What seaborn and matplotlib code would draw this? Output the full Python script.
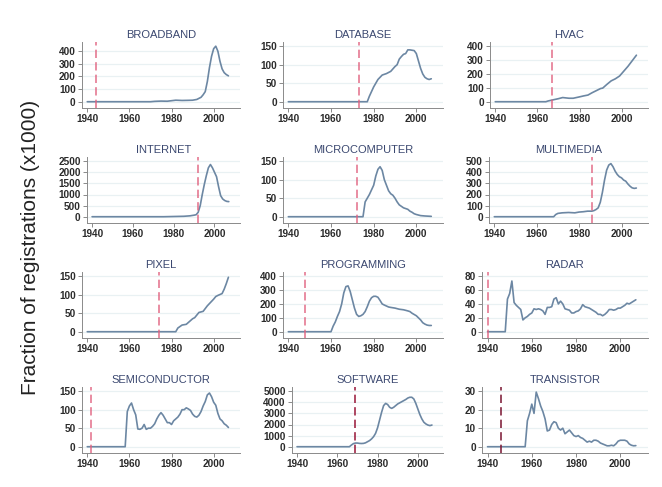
import matplotlib
matplotlib.use("Agg")
import matplotlib.pyplot as plt
import seaborn as sns
import pandas as pd

# ---- data: fraction of registrations (x1000) per year, by term ----
terms = ["BROADBAND", "DATABASE", "HVAC", "INTERNET", "MICROCOMPUTER", "MULTIMEDIA",
         "PIXEL", "PROGRAMMING", "RADAR", "SEMICONDUCTOR", "SOFTWARE", "TRANSISTOR"]

# year the term was introduced (dashed marker)
intro_years = [1944, 1973, 1967, 1992, 1972, 1986, 1974, 1948, 1940, 1942, 1969, 1946]

broadband_years = [1940, 1970, 1972, 1975, 1978, 1980, 1982, 1985, 1988, 1990, 1992, 1994, 1995,
                   1996, 1997, 1998, 1999, 2000, 2001, 2002, 2003, 2004, 2005, 2006, 2007]
broadband_values = [0, 0, 3, 5, 4, 8, 12, 10, 11, 12, 18, 35, 55,
                    80, 160, 270, 360, 420, 440, 400, 320, 260, 230, 215, 205]

database_years = [1940, 1977, 1978, 1980, 1982, 1984, 1986, 1988, 1990, 1991, 1992, 1993, 1994,
                  1995, 1996, 1997, 1998, 1999, 2000, 2001, 2002, 2003, 2004, 2005, 2006, 2007]
database_values = [0, 0, 15, 40, 60, 72, 76, 82, 95, 100, 115, 122, 128,
                   130, 140, 140, 139, 138, 130, 110, 90, 75, 66, 62, 60, 62]

hvac_years = [1940, 1964, 1965, 1967, 1970, 1972, 1975, 1977, 1980, 1982, 1984, 1986, 1988,
              1990, 1991, 1993, 1995, 1997, 1999, 2001, 2003, 2005, 2007]
hvac_values = [0, 0, 5, 12, 22, 30, 25, 25, 35, 42, 48, 65, 80,
               95, 98, 125, 150, 165, 185, 220, 255, 295, 335]

internet_years = [1940, 1975, 1980, 1985, 1988, 1990, 1991, 1992, 1993, 1994, 1995, 1996, 1997,
                  1998, 1999, 2000, 2001, 2002, 2003, 2004, 2005, 2006, 2007]
internet_values = [0, 0, 10, 20, 40, 70, 90, 200, 500, 1000, 1450, 1850, 2200,
                   2350, 2200, 2000, 1800, 1350, 950, 800, 730, 690, 680]

microcomputer_years = [1940, 1975, 1976, 1978, 1980, 1981, 1982, 1983, 1984, 1985, 1986, 1987,
                       1988, 1989, 1990, 1991, 1992, 1993, 1994, 1995, 1996, 1997, 1998, 1999,
                       2000, 2002, 2004, 2007]
microcomputer_values = [0, 0, 40, 60, 85, 110, 128, 135, 125, 100, 85, 70,
                        62, 58, 50, 40, 32, 28, 24, 22, 20, 15, 12, 8,
                        6, 3, 2, 1]

multimedia_years = [1940, 1968, 1969, 1970, 1972, 1975, 1978, 1980, 1982, 1984, 1986, 1987,
                    1988, 1989, 1990, 1991, 1992, 1993, 1994, 1995, 1996, 1997, 1998, 1999,
                    2000, 2001, 2002, 2003, 2004, 2005, 2006, 2007]
multimedia_values = [0, 0, 20, 30, 35, 38, 35, 42, 45, 50, 50, 55,
                     65, 80, 130, 220, 330, 420, 465, 478, 450, 410, 380, 360,
                     350, 330, 320, 295, 275, 260, 255, 258]

pixel_years = [1940, 1982, 1983, 1985, 1987, 1988, 1990, 1991, 1992, 1993, 1995, 1997, 1999,
               2000, 2001, 2002, 2004, 2005, 2006, 2007]
pixel_values = [0, 0, 10, 18, 20, 25, 35, 38, 45, 52, 55, 70, 82,
                88, 95, 98, 103, 115, 130, 147]

programming_years = [1940, 1960, 1961, 1962, 1963, 1964, 1965, 1966, 1967, 1968, 1969, 1970,
                     1971, 1972, 1973, 1974, 1975, 1976, 1977, 1978, 1979, 1980, 1981, 1982,
                     1983, 1984, 1985, 1986, 1987, 1988, 1990, 1992, 1994, 1996, 1997, 1998,
                     2000, 2001, 2002, 2003, 2004, 2005, 2006, 2007]
programming_values = [0, 0, 40, 70, 110, 145, 200, 280, 325, 330, 290, 230,
                      170, 125, 110, 115, 125, 145, 180, 220, 245, 255, 255, 248,
                      225, 200, 192, 185, 178, 175, 170, 162, 158, 150, 145, 133,
                      115, 100, 85, 65, 55, 48, 45, 45]

radar_years = [1940, 1948, 1949, 1950, 1951, 1952, 1953, 1954, 1955, 1956, 1957, 1958, 1959,
               1960, 1961, 1962, 1963, 1964, 1965, 1966, 1967, 1968, 1969, 1970, 1971, 1972,
               1973, 1974, 1975, 1976, 1977, 1978, 1979, 1980, 1981, 1982, 1983, 1984, 1985,
               1986, 1987, 1988, 1989, 1990, 1991, 1992, 1993, 1994, 1995, 1996, 1997, 1998,
               1999, 2000, 2001, 2002, 2003, 2004, 2005, 2006, 2007]
radar_values = [0, 0, 47, 55, 73, 42, 38, 35, 32, 17, 20, 22, 25,
                27, 33, 32, 33, 32, 30, 25, 35, 35, 36, 47, 49, 40,
                44, 40, 33, 32, 31, 27, 27, 29, 30, 33, 39, 36, 35,
                34, 32, 30, 28, 25, 25, 23, 25, 28, 32, 32, 31, 32,
                34, 34, 36, 38, 41, 40, 42, 44, 46]

semiconductor_years = [1940, 1958, 1959, 1960, 1961, 1962, 1963, 1964, 1965, 1966, 1967, 1968,
                       1969, 1970, 1971, 1972, 1973, 1974, 1975, 1976, 1977, 1978, 1979, 1980,
                       1981, 1982, 1983, 1984, 1985, 1986, 1987, 1988, 1989, 1990, 1991, 1992,
                       1993, 1994, 1995, 1996, 1997, 1998, 1999, 2000, 2001, 2002, 2003, 2004,
                       2005, 2006, 2007]
semiconductor_values = [0, 0, 95, 110, 118, 100, 86, 48, 47, 50, 60, 47,
                        50, 50, 55, 62, 75, 85, 92, 85, 75, 65, 65, 60,
                        70, 75, 80, 88, 100, 100, 105, 102, 98, 88, 82, 80,
                        85, 95, 110, 122, 140, 145, 135, 120, 112, 90, 75, 70,
                        62, 58, 52]

software_years = [1940, 1966, 1967, 1968, 1969, 1970, 1971, 1972, 1973, 1974, 1975, 1976, 1977,
                  1978, 1979, 1980, 1981, 1982, 1983, 1984, 1985, 1986, 1987, 1988, 1989, 1990,
                  1991, 1992, 1993, 1994, 1995, 1996, 1997, 1998, 1999, 2000, 2001, 2002, 2003,
                  2004, 2005, 2006, 2007]
software_values = [0, 0, 150, 280, 330, 330, 300, 290, 300, 350, 450, 550, 700,
                   900, 1200, 1700, 2400, 3100, 3700, 3900, 3800, 3550, 3450, 3550, 3700, 3850,
                   3950, 4050, 4150, 4250, 4380, 4450, 4450, 4300, 3900, 3400, 2900, 2500, 2200,
                   2050, 1950, 1900, 1950]

transistor_years = [1940, 1957, 1958, 1959, 1960, 1961, 1962, 1963, 1964, 1965, 1966, 1967, 1968,
                    1969, 1970, 1971, 1972, 1973, 1974, 1975, 1976, 1977, 1978, 1979, 1980, 1981,
                    1982, 1983, 1984, 1985, 1986, 1987, 1988, 1989, 1990, 1991, 1992, 1993, 1994,
                    1995, 1996, 1997, 1998, 1999, 2000, 2001, 2002, 2003, 2004, 2005, 2006, 2007]
transistor_values = [0, 0, 14, 18, 23, 18, 29.5, 26, 22, 19, 15, 8.5, 9,
                     12, 13.5, 13, 10, 9, 10, 7, 8, 9, 7.5, 6, 5.5, 6,
                     5, 4.5, 3.5, 2.5, 3, 2.5, 3.5, 3.5, 3, 2, 1.5, 1, 0.5,
                     0.5, 0.8, 0.5, 1.5, 3, 3.5, 3.5, 3.5, 3, 1.5, 0.8, 0.5, 0.6]

series_years = [broadband_years, database_years, hvac_years, internet_years,
                microcomputer_years, multimedia_years, pixel_years, programming_years,
                radar_years, semiconductor_years, software_years, transistor_years]
series_values = [broadband_values, database_values, hvac_values, internet_values,
                 microcomputer_values, multimedia_values, pixel_values, programming_values,
                 radar_values, semiconductor_values, software_values, transistor_values]

y_ticks = [[0, 100, 200, 300, 400], [0, 50, 100, 150], [0, 100, 200, 300, 400],
           [0, 500, 1000, 1500, 2000, 2500], [0, 50, 100, 150], [0, 100, 200, 300, 400, 500],
           [0, 50, 100, 150], [0, 100, 200, 300, 400], [0, 20, 40, 60, 80],
           [0, 50, 100, 150], [0, 1000, 2000, 3000, 4000, 5000], [0, 10, 20, 30]]
x_ticks = [1940, 1960, 1980, 2000]

frames = []
for term, yrs, vals in zip(terms, series_years, series_values):
    frames.append(pd.DataFrame({"term": term, "year": yrs, "value": vals}))
df = pd.concat(frames, ignore_index=True)

# ---- styling ----
sns.set_theme(style="ticks")
plt.rcParams["font.family"] = ["Liberation Sans", "DejaVu Sans"]

LINE_COLOR = "#6c87a3"
TITLE_COLOR = "#3b4870"
TICK_COLOR = "#2b2b2b"
SPINE_COLOR = "#8a8a8a"
GRID_COLOR = "#e9f1f3"
MARK_COLORS = {"SOFTWARE": "#9b1c3c", "TRANSISTOR": "#7d1a36"}
MARK_DEFAULT = "#e0627f"

W, H = 662, 487
fig = plt.figure(figsize=(W / 100, H / 100), dpi=100)

# panel frames in pixels: left edge per panel, right edge per column, rows top/bottom
col_right = [240, 443, 648]
row_top = [42, 157, 272, 387]
row_bottom = [108, 223, 338, 453]
panel_left = [82, 283, 490,
              87, 283, 489,
              82, 283, 482,
              82, 292, 482]

for i, term in enumerate(terms):
    r, c = divmod(i, 3)
    left = panel_left[i]
    right = col_right[c]
    ax = fig.add_axes([left / W, 1 - row_bottom[r] / H,
                       (right - left) / W, (row_bottom[r] - row_top[r]) / H])
    sub = df[df["term"] == term]
    ticks = y_ticks[i]
    for t in ticks:
        ax.axhline(t, color=GRID_COLOR, linewidth=0.9, zorder=0)
    sns.lineplot(data=sub, x="year", y="value", ax=ax, color=LINE_COLOR,
                 linewidth=1.2, zorder=3)
    ax.axvline(intro_years[i], color=MARK_COLORS.get(term, MARK_DEFAULT),
               linewidth=1.2, linestyle=(0, (5, 2.5)), zorder=4,
               alpha=0.95 if term in MARK_COLORS else 0.85)

    hi = max(ticks[-1], sub["value"].max())
    rng = hi
    ax.set_ylim(-0.113 * rng, hi + 0.075 * rng)
    ax.set_xlim(1937.5, 2012.5)
    ax.set_yticks(ticks)
    ax.set_xticks(x_ticks)
    ax.set_xlabel("")
    ax.set_ylabel("")
    ax.set_title(term, fontsize=8, color=TITLE_COLOR, pad=3)
    ax.tick_params(axis="both", labelsize=7.2, colors=SPINE_COLOR, length=3,
                   width=0.7, pad=1.5, labelcolor=TICK_COLOR)
    for lab in ax.get_xticklabels() + ax.get_yticklabels():
        lab.set_fontweight("bold")
    for side in ["top", "right"]:
        ax.spines[side].set_visible(False)
    for side in ["left", "bottom"]:
        ax.spines[side].set_color(SPINE_COLOR)
        ax.spines[side].set_linewidth(0.7)

fig.text(31 / W, 1 - 247 / H, "Fraction of registrations (x1000)", rotation=90,
         ha="center", va="center", fontsize=15, color="#222222")

fig.savefig("out.png", dpi=100, facecolor="white")
